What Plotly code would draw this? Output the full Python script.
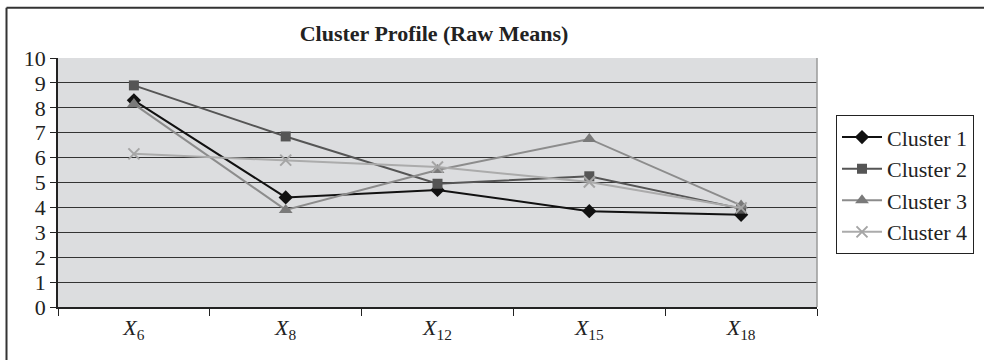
import plotly.graph_objects as go

categories = ["X6", "X8", "X12", "X15", "X18"]
tick_labels = ["<i>X</i><sub>6</sub>", "<i>X</i><sub>8</sub>", "<i>X</i><sub>12</sub>",
               "<i>X</i><sub>15</sub>", "<i>X</i><sub>18</sub>"]
cluster1 = [8.3, 4.4, 4.7, 3.85, 3.7]
cluster2 = [8.9, 6.85, 4.95, 5.25, 3.95]
cluster3 = [8.15, 3.9, 5.5, 6.75, 4.08]
cluster4 = [6.15, 5.9, 5.62, 5.02, 3.98]
y_ticks = list(range(0, 11))

FONT = "Liberation Serif"

fig = go.Figure()
styles = [
    ("Cluster 1", cluster1, "#111111", "#111111", "diamond", 11),
    ("Cluster 2", cluster2, "#555555", "#555555", "square", 10),
    ("Cluster 3", cluster3, "#8c8c8c", "#7a7a7a", "triangle-up", 12),
    ("Cluster 4", cluster4, "#ababab", "#a5a5a5", "x-thin", 11),
]
for name, vals, lc, mc, sym, sz in styles:
    marker = dict(symbol=sym, size=sz, color=mc)
    if sym == "x-thin":
        marker["line"] = dict(color=mc, width=2)
    fig.add_trace(go.Scatter(
        x=categories, y=vals, name=name, mode="lines+markers",
        line=dict(color=lc, width=2), marker=marker,
    ))

fig.update_layout(
    width=984, height=360,
    margin=dict(l=58, r=167, t=57.5, b=52.5, autoexpand=False),
    paper_bgcolor="white", plot_bgcolor="#dcdddf",
    font=dict(family=FONT, size=22, color="#222222"),
    title=dict(text="<b>Cluster Profile (Raw Means)</b>", x=434 / 984, xanchor="center",
               y=1 - 33 / 360, yanchor="middle", font=dict(family=FONT, size=22, color="#222222")),
    showlegend=True,
    legend=dict(x=(836 - 58) / 759, xanchor="left", y=(307.5 - 115) / 250, yanchor="top",
                bordercolor="#222222", borderwidth=1, bgcolor="white",
                font=dict(family=FONT, size=22, color="#222222"),
                tracegroupgap=0, itemwidth=40),
)
fig.update_xaxes(
    type="category", categoryorder="array", categoryarray=categories,
    tickvals=categories, ticktext=tick_labels,
    tickson="boundaries", ticks="outside", ticklen=7, tickcolor="#222222",
    showline=True, linecolor="#222222", linewidth=1.5, showgrid=False,
    mirror=False, range=[-0.5, 4.5], zeroline=False,
    tickfont=dict(family=FONT, size=22, color="#222222"),
)
fig.update_yaxes(
    range=[0, 10], tickvals=y_ticks, ticks="outside", ticklen=6, tickcolor="#222222",
    showline=True, linecolor="#222222", linewidth=1.5,
    showgrid=True, gridcolor="#333333", gridwidth=1, zeroline=False,
    tickfont=dict(family=FONT, size=22, color="#222222"),
)
# right plot-area border (gray)
fig.add_shape(type="line", xref="paper", yref="paper", x0=1, x1=1, y0=0, y1=1,
              line=dict(color="#9a9a9a", width=1.5))
# outer chart-area border (cropped: only top and left visible)
fig.add_shape(type="line", xref="paper", yref="paper",
              x0=(6.5 - 58) / 759, x1=(6.5 - 58) / 759, y0=-0.4, y1=(307.5 - 7) / 250,
              line=dict(color="#333333", width=2))
fig.add_shape(type="line", xref="paper", yref="paper",
              x0=(6.5 - 58) / 759, x1=1.4, y0=(307.5 - 7) / 250, y1=(307.5 - 7) / 250,
              line=dict(color="#333333", width=2))

fig.write_html("out.html", config={"displayModeBar": False},
               post_script="document.body.style.margin='0';document.body.style.overflow='hidden';")
